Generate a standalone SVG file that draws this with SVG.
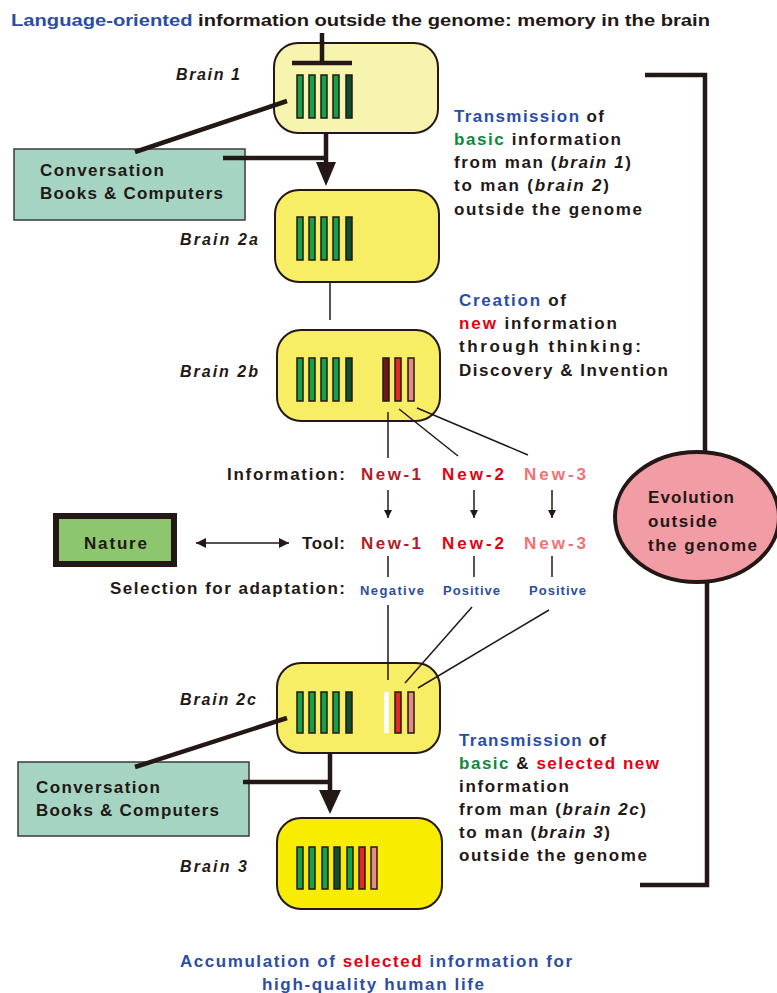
<svg xmlns="http://www.w3.org/2000/svg" width="777" height="993" viewBox="0 0 777 993">
<style>
text{font-family:"Liberation Sans",Arial,sans-serif;font-weight:bold;font-size:17px;fill:#231815}
.b{fill:#2b4ea2}.g{fill:#0a8a3c}.r{fill:#e60012}.dr{fill:#b31b2a}.pk{fill:#f07272}
.it{font-style:italic}
.lbl{font-style:italic;font-size:16px}
.sm{font-size:13px;fill:#2b4ea2}
.brain{stroke:#231815;stroke-width:2}
.bar{stroke:#231815;stroke-width:1.5;fill:#17a04a}
.bd{fill:#0c4f2e}.bred{fill:#e02a2a}.bdr{fill:#6b1a1a}.bpk{fill:#e88a8a}.bw{fill:#fff;stroke:none}
.thick{stroke:#231815;stroke-width:4.5;fill:none}
.thin{stroke:#231815;stroke-width:1.5;fill:none}
</style>
<defs>
<marker id="ah" viewBox="0 0 10 10" refX="10" refY="5" markerWidth="8" markerHeight="10" markerUnits="userSpaceOnUse" orient="auto"><path d="M0,0 L10,5 L0,10 z" fill="#231815"/></marker>
<marker id="ahs" viewBox="0 0 10 10" refX="10" refY="5" markerWidth="14" markerHeight="10" markerUnits="userSpaceOnUse" orient="auto-start-reverse"><path d="M0,0 L10,5 L0,10 z" fill="#231815"/></marker>
</defs>

<text x="11" y="26" textLength="699" lengthAdjust="spacingAndGlyphs"><tspan class="b">Language-oriented</tspan> information outside the genome: memory in the brain</text>

<g id="brain1">
<rect x="274" y="43" width="164" height="90" rx="24" class="brain" fill="#f7f4b0"/>
<rect x="297" y="75" width="6" height="43" class="bar"/>
<rect x="309" y="75" width="6" height="43" class="bar"/>
<rect x="321" y="75" width="6" height="43" class="bar"/>
<rect x="333" y="75" width="6" height="43" class="bar"/>
<rect x="346" y="75" width="6" height="43" class="bar bd"/>
<text x="176" y="80" class="lbl" textLength="64" lengthAdjust="spacing">Brain 1</text>
</g>

<g id="conversation1">
<rect x="14" y="149" width="231" height="71" fill="#a5d5c2" stroke="#3a3a3a" stroke-width="1.5"/>
<text x="40" y="176" textLength="124" lengthAdjust="spacing">Conversation</text>
<text x="40" y="199" textLength="183" lengthAdjust="spacing">Books &amp; Computers</text>
</g>

<g id="brain2a">
<rect x="275" y="190" width="164" height="92" rx="24" class="brain" fill="#f8ee66"/>
<rect x="297" y="217" width="6" height="43" class="bar"/>
<rect x="309" y="217" width="6" height="43" class="bar"/>
<rect x="321" y="217" width="6" height="43" class="bar"/>
<rect x="333" y="217" width="6" height="43" class="bar"/>
<rect x="346" y="217" width="6" height="43" class="bar bd"/>
<text x="180" y="245" class="lbl" textLength="78" lengthAdjust="spacing">Brain 2a</text>
</g>

<g id="brain2b">
<rect x="277" y="330" width="163" height="91" rx="24" class="brain" fill="#f8ee66"/>
<rect x="297" y="358" width="6" height="43" class="bar"/>
<rect x="309" y="358" width="6" height="43" class="bar"/>
<rect x="321" y="358" width="6" height="43" class="bar"/>
<rect x="333" y="358" width="6" height="43" class="bar"/>
<rect x="346" y="358" width="6" height="43" class="bar bd"/>
<rect x="383" y="358" width="6" height="43" class="bar bdr"/>
<rect x="395" y="358" width="6" height="43" class="bar bred"/>
<rect x="408" y="358" width="6" height="43" class="bar bpk"/>
<text x="180" y="377" class="lbl" textLength="78" lengthAdjust="spacing">Brain 2b</text>
</g>

<g id="text-transmission1">
<text x="454" y="122" textLength="150" lengthAdjust="spacing"><tspan class="b">Transmission</tspan> of</text>
<text x="454" y="145" textLength="167" lengthAdjust="spacing"><tspan class="g">basic</tspan> information</text>
<text x="454" y="168" textLength="177" lengthAdjust="spacing">from man (<tspan class="it">brain 1</tspan>)</text>
<text x="454" y="191" textLength="155" lengthAdjust="spacing">to man (<tspan class="it">brain 2</tspan>)</text>
<text x="454" y="215" textLength="188" lengthAdjust="spacing">outside the genome</text>
</g>

<g id="text-creation">
<text x="459" y="306" textLength="107" lengthAdjust="spacing"><tspan class="b">Creation</tspan> of</text>
<text x="459" y="329" textLength="158" lengthAdjust="spacing"><tspan class="r">new</tspan> information</text>
<text x="459" y="352" textLength="182" lengthAdjust="spacing">through thinking:</text>
<text x="459" y="376" textLength="209" lengthAdjust="spacing">Discovery &amp; Invention</text>
</g>

<g id="info-row">
<text x="227" y="480" textLength="118" lengthAdjust="spacing">Information:</text>
<text x="361" y="480" class="dr" textLength="60" lengthAdjust="spacing">New-1</text>
<text x="442" y="480" class="r" textLength="62" lengthAdjust="spacing">New-2</text>
<text x="524" y="480" class="pk" textLength="62" lengthAdjust="spacing">New-3</text>
</g>

<g id="tool-row">
<text x="302" y="549" textLength="43" lengthAdjust="spacing">Tool:</text>
<text x="361" y="549" class="dr" textLength="60" lengthAdjust="spacing">New-1</text>
<text x="442" y="549" class="r" textLength="62" lengthAdjust="spacing">New-2</text>
<text x="524" y="549" class="pk" textLength="62" lengthAdjust="spacing">New-3</text>
</g>

<g id="selection-row">
<text x="110" y="594" textLength="235" lengthAdjust="spacing">Selection for adaptation:</text>
<text x="360" y="595" class="sm" textLength="64" lengthAdjust="spacing">Negative</text>
<text x="443" y="595" class="sm" textLength="57" lengthAdjust="spacing">Positive</text>
<text x="529" y="595" class="sm" textLength="57" lengthAdjust="spacing">Positive</text>
</g>

<g id="nature">
<rect x="56" y="516" width="118" height="48" fill="#8cc66e" stroke="#231815" stroke-width="6"/>
<text x="84" y="549" textLength="63" lengthAdjust="spacing">Nature</text>
</g>

<g id="evolution">
<ellipse cx="697" cy="517" rx="82" ry="65" fill="#f29ca6" stroke="#231815" stroke-width="4"/>
<text x="648" y="503" textLength="86" lengthAdjust="spacing">Evolution</text>
<text x="648" y="527" textLength="69" lengthAdjust="spacing">outside</text>
<text x="648" y="551" textLength="109" lengthAdjust="spacing">the genome</text>
</g>

<g id="brain2c">
<rect x="277" y="663" width="163" height="90" rx="24" class="brain" fill="#f8ee66"/>
<rect x="297" y="692" width="6" height="41" class="bar"/>
<rect x="309" y="692" width="6" height="41" class="bar"/>
<rect x="321" y="692" width="6" height="41" class="bar"/>
<rect x="333" y="692" width="6" height="41" class="bar"/>
<rect x="346" y="692" width="6" height="41" class="bar bd"/>
<rect x="384" y="692" width="5" height="41" class="bar bw"/>
<rect x="395" y="692" width="6" height="41" class="bar bred"/>
<rect x="408" y="692" width="6" height="41" class="bar bpk"/>
<text x="180" y="705" class="lbl" textLength="76" lengthAdjust="spacing">Brain 2c</text>
</g>

<g id="conversation2">
<rect x="18" y="762" width="231" height="74" fill="#a5d5c2" stroke="#3a3a3a" stroke-width="1.5"/>
<text x="36" y="793" textLength="124" lengthAdjust="spacing">Conversation</text>
<text x="36" y="816" textLength="183" lengthAdjust="spacing">Books &amp; Computers</text>
</g>

<g id="brain3">
<rect x="277" y="818" width="165" height="91" rx="24" class="brain" fill="#f8ec00"/>
<rect x="297" y="847" width="6" height="42" class="bar"/>
<rect x="309" y="847" width="6" height="42" class="bar"/>
<rect x="322" y="847" width="6" height="42" class="bar"/>
<rect x="334" y="847" width="6" height="42" class="bar bd"/>
<rect x="347" y="847" width="6" height="42" class="bar"/>
<rect x="359" y="847" width="6" height="42" class="bar bred"/>
<rect x="371" y="847" width="6" height="42" class="bar bpk"/>
<text x="180" y="872" class="lbl" textLength="67" lengthAdjust="spacing">Brain 3</text>
</g>

<g id="text-transmission2">
<text x="459" y="746" textLength="147" lengthAdjust="spacing"><tspan class="b">Transmission</tspan> of</text>
<text x="459" y="769" textLength="200" lengthAdjust="spacing"><tspan class="g">basic</tspan> &amp; <tspan class="r">selected new</tspan></text>
<text x="459" y="792" textLength="110" lengthAdjust="spacing">information</text>
<text x="459" y="815" textLength="187" lengthAdjust="spacing">from man (<tspan class="it">brain 2c</tspan>)</text>
<text x="459" y="838" textLength="151" lengthAdjust="spacing">to man (<tspan class="it">brain 3</tspan>)</text>
<text x="459" y="861" textLength="188" lengthAdjust="spacing">outside the genome</text>
</g>

<g id="footer">
<text x="180" y="967" class="b" textLength="392" lengthAdjust="spacing">Accumulation of <tspan class="r">selected</tspan> information for</text>
<text x="262" y="990" class="b" textLength="222" lengthAdjust="spacing">high-quality human life</text>
</g>

<g id="connectors">
<line x1="322" y1="33" x2="322" y2="63" class="thick"/>
<line x1="292" y1="63" x2="352" y2="63" class="thick"/>
<line x1="135" y1="152" x2="287" y2="101" class="thick"/>
<line x1="223" y1="158" x2="326" y2="158" class="thick"/>
<line x1="326" y1="133" x2="326" y2="165" class="thick"/>
<path d="M316,162 L336,162 L326,186 z" fill="#231815"/>
<line x1="330" y1="283" x2="330" y2="320" class="thin"/>
<line x1="388" y1="412" x2="388" y2="458" class="thin"/>
<line x1="399" y1="409" x2="458" y2="456" class="thin"/>
<line x1="417" y1="408" x2="528" y2="455" class="thin"/>
<line x1="388" y1="490" x2="388" y2="518" class="thin" marker-end="url(#ah)"/>
<line x1="474" y1="490" x2="474" y2="518" class="thin" marker-end="url(#ah)"/>
<line x1="552" y1="490" x2="552" y2="518" class="thin" marker-end="url(#ah)"/>
<line x1="196" y1="543" x2="289" y2="543" class="thin" marker-start="url(#ahs)" marker-end="url(#ahs)"/>
<line x1="388" y1="556" x2="388" y2="577" class="thin"/>
<line x1="474" y1="556" x2="474" y2="577" class="thin"/>
<line x1="552" y1="556" x2="552" y2="577" class="thin"/>
<line x1="388" y1="605" x2="388" y2="680" class="thin"/>
<line x1="472" y1="607" x2="405" y2="683" class="thin"/>
<line x1="549" y1="610" x2="418" y2="688" class="thin"/>
<line x1="135" y1="767" x2="287" y2="718" class="thick"/>
<line x1="243" y1="782" x2="330" y2="782" class="thick"/>
<line x1="330" y1="753" x2="330" y2="793" class="thick"/>
<path d="M319,790 L341,790 L330,814 z" fill="#231815"/>
<path d="M645,75 L705,75 L705,452" class="thick"/>
<path d="M707,582 L707,885 L640,885" class="thick"/>
</g>
</svg>
